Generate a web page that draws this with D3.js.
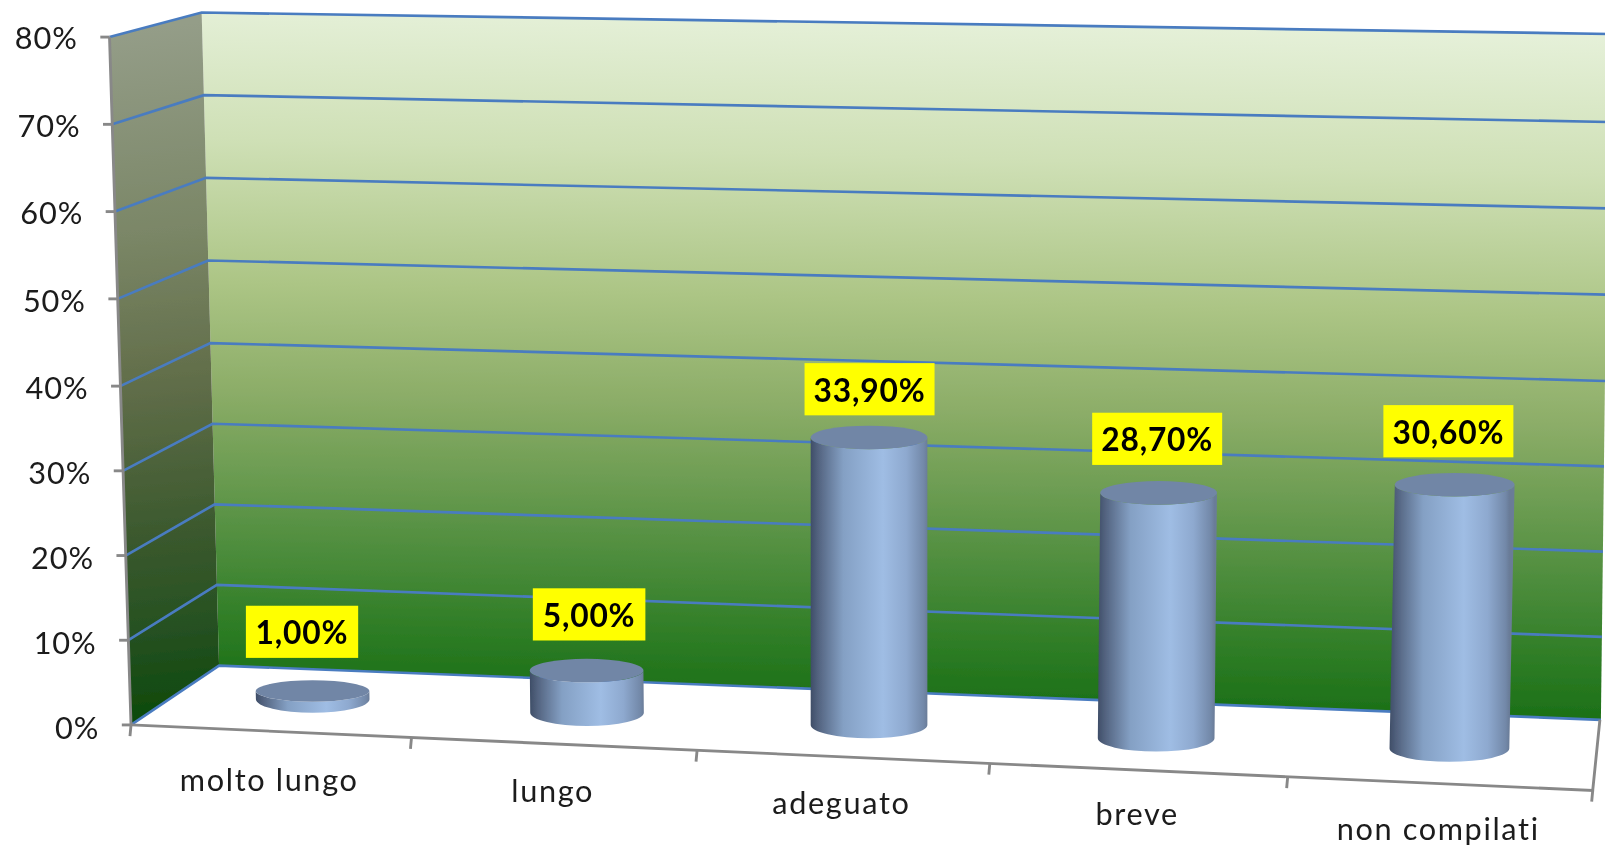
<!DOCTYPE html>
<html><head><meta charset="utf-8">
<script src="https://cdn.jsdelivr.net/npm/d3@7/dist/d3.min.js"></script>
<style>html,body{margin:0;padding:0;background:#fff;overflow:hidden}svg{display:block}text{font-family:Lato,"Open Sans",sans-serif}</style>
</head><body><div id="chart"></div>
<script>
const categories = ["molto lungo","lungo","adeguato","breve","non compilati"];
const values = [1.0,5.0,33.9,28.7,30.6];
const valueLabels = ["1,00%","5,00%","33,90%","28,70%","30,60%"];
const yTicks = [0,10,20,30,40,50,60,70,80];

const svg = d3.select("#chart").append("svg").attr("width",1605).attr("height",848).attr("viewBox","0 0 1568 828");
const defs = svg.append("defs");
const grad=(id,attrs,stops)=>{const g=defs.append("linearGradient").attr("id",id).attr("gradientUnits","userSpaceOnUse");
  Object.entries(attrs).forEach(([k,v])=>g.attr(k,v));
  stops.forEach(([o,c])=>g.append("stop").attr("offset",o).attr("stop-color",c));};
grad("wall",{x1:0,y1:-10,x2:-18,y2:690},[[0,"#e6f1da"],[.2,"#cfe0b6"],[.4,"#acc585"],[.55,"#8cad68"],[.72,"#5c9447"],[.87,"#307e27"],[1,"#136a10"]]);
grad("side",{x1:115,y1:30,x2:190,y2:700},[[0,"#949d88"],[.3,"#7a8666"],[.5,"#636f4b"],[.72,"#3d5a2f"],[.88,"#245020"],[1,"#0c4a0a"]]);
categories.forEach((c,i)=>grad("cyl"+i,{},[]));
const cylStops=[[0,"#3f4e68"],[.06,"#52627e"],[.28,"#84a0c4"],[.62,"#9fbde4"],[.82,"#8ea9cf"],[.97,"#7288a8"],[1,"#6a7c98"]];
const f=defs.append("filter").attr("id","soft").attr("filterUnits","userSpaceOnUse").attr("x",0).attr("y",0).attr("width",1568).attr("height",828);
f.append("feGaussianBlur").attr("stdDeviation",.7);

// perspective corners of the chart box, as scales over the value domain
const yDom=[0,40,80];
const yFront=d3.scaleLinear().domain(yDom).range([708,377,36]);
const xFront=d3.scaleLinear().domain([0,80]).range([128,107]);
const yBack =d3.scaleLinear().domain(yDom).range([650,335,12]);
const xBack =d3.scaleLinear().domain([0,80]).range([214,197]);
const yRight=d3.scaleLinear().domain([0,10,40,70,80]).range([703,622,372,119,33]);
const xRight=d3.scaleLinear().domain([0,80]).range([1564,1572]);
// bars
const idx=[0,1,2,3,4];
const xBar=d3.scaleLinear().domain(idx).range([305.5,573.5,849,1129.5,1416]);
const yBase=d3.scaleLinear().domain(idx).range([683,696,708,721,731]);
const unit=d3.scaleLinear().domain([0,4]).range([8.15,8.42]);
const rx=d3.scaleLinear().domain(idx).range([55.5,55.5,57,57,58.5]);

const root=svg.append("g").attr("filter","url(#soft)");
const poly=(pts)=>d3.line()(pts)+"Z";
const vMax=d3.max(yDom);
root.append("path").attr("d",poly([[xBack(vMax),yBack(vMax)],[xRight(vMax),yRight(vMax)],[xRight(0),yRight(0)],[xBack(0),yBack(0)]])).attr("fill","url(#wall)");
root.append("path").attr("d",poly([[xFront(vMax),yFront(vMax)],[xBack(vMax),yBack(vMax)],[xBack(0),yBack(0)],[xFront(0),yFront(0)]])).attr("fill","url(#side)");
const fc=[1556,772];
root.append("path").attr("d",poly([[xFront(0),yFront(0)],[xBack(0),yBack(0)],[xRight(0),yRight(0)],fc])).attr("fill","#fff");

// gridlines
root.append("g").selectAll("path").data(yTicks).join("path")
  .attr("d",t=>d3.line()([[xFront(t),yFront(t)],[xBack(t),yBack(t)],[xRight(t),yRight(t)]]))
  .attr("fill","none").attr("stroke","#4a7cc0").attr("stroke-width",2.6);

// axis lines
const grey="#888888";
root.append("path").attr("d",d3.line()([[xFront(vMax),yFront(vMax)],[xFront(0),yFront(0)]])).attr("stroke",grey).attr("stroke-width",2.8);
root.append("path").attr("d",d3.line()([[xFront(0),yFront(0)],fc,[1563,703]])).attr("stroke",grey).attr("stroke-width",2.8).attr("fill","none");
root.append("g").selectAll("path").data(yTicks).join("path")
  .attr("d",t=>d3.line()([[xFront(t)-9,yFront(t)],[xFront(t),yFront(t)]])).attr("stroke",grey).attr("stroke-width",2.8);
const xTickScale=d3.scaleLinear().domain(d3.range(6)).range([128,402,681,967,1258,1556]);
const floorY=d3.scaleLinear().domain([128,1556]).range([708,772]);
root.append("g").selectAll("path").data(d3.range(6)).join("path")
  .attr("d",i=>{const x=xTickScale(i),y=floorY(x);return d3.line()([[x,y],[x-1,y+11]]);}).attr("stroke",grey).attr("stroke-width",2.8);

// y tick labels
root.append("g").selectAll("text").data(yTicks).join("text")
  .attr("x",t=>xFront(t)-31).attr("y",t=>yFront(t)+13.5-t*.02)
  .attr("text-anchor","end").attr("font-size",30).attr("letter-spacing",.9).attr("fill","#1a1a1a").text(t=>t+"%");

// category labels
const catX=d3.scaleLinear().domain(idx).range([263,540,822,1111,1405]);
const catY=d3.scaleLinear().domain(idx).range([773,783,795,806,820]);
root.append("g").selectAll("text").data(categories).join("text")
  .attr("x",(d,i)=>catX(i)).attr("y",(d,i)=>catY(i)).attr("text-anchor","middle")
  .attr("font-size",30).attr("letter-spacing",1.6).attr("fill","#1a1a1a").text(d=>d);

// cylinders
const bars=root.append("g").selectAll("g").data(values).join("g");
bars.each(function(v,i){
  const g=d3.select(this);
  const h=v*unit(i), lean=(i-2)*.01*h;
  const bx=xBar(i), by=yBase(i), tx=bx+lean, ty=by-h, r=rx(i);
  d3.select("#cyl"+i).attr("x1",bx-r).attr("x2",bx+r).attr("y1",0).attr("y2",0)
    .selectAll("stop").data(cylStops).join("stop").attr("offset",d=>d[0]).attr("stop-color",d=>d[1]);
  const ryB=13, ryT=i<1?10.5:11.5;
  g.append("path").attr("d",`M${bx-r},${by}A${r},${ryB} 0 0 0 ${bx+r},${by}L${tx+r},${ty}A${r},${ryT} 0 0 1 ${tx-r},${ty}Z`).attr("fill",`url(#cyl${i})`);
  g.append("ellipse").attr("cx",tx).attr("cy",ty).attr("rx",r).attr("ry",ryT).attr("fill","#7186a6");
});

// value labels
const labelLift=[57.85,54.9,47.1,52.8,52.3];
const labelShift=[-10.5,2,.5,1,-1];
const lab=root.append("g").selectAll("g").data(values).join("g")
  .attr("transform",(v,i)=>`translate(${xBar(i)+labelShift[i]},${yBase(i)-v*unit(i)-labelLift[i]})`);
lab.append("rect").attr("x",(v,i)=>i<2?-55:-63.5).attr("y",-25.5).attr("width",(v,i)=>i<2?110:127).attr("height",51).attr("fill","#ffff00");
lab.append("text").attr("text-anchor","middle").attr("y",12).attr("font-size",31).attr("letter-spacing",.8).attr("font-weight",700).attr("fill","#000").text((v,i)=>valueLabels[i]);
</script></body></html>
